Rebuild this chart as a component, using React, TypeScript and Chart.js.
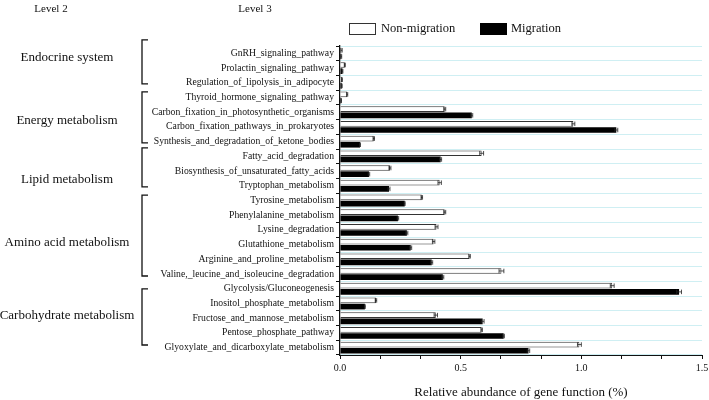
import React, { useEffect, useRef } from 'react';
import { Chart, registerables } from 'chart.js';

Chart.register(...registerables);

const categories = [
  'GnRH_signaling_pathway',
  'Prolactin_signaling_pathway',
  'Regulation_of_lipolysis_in_adipocyte',
  'Thyroid_hormone_signaling_pathway',
  'Carbon_fixation_in_photosynthetic_organisms',
  'Carbon_fixation_pathways_in_prokaryotes',
  'Synthesis_and_degradation_of_ketone_bodies',
  'Fatty_acid_degradation',
  'Biosynthesis_of_unsaturated_fatty_acids',
  'Tryptophan_metabolism',
  'Tyrosine_metabolism',
  'Phenylalanine_metabolism',
  'Lysine_degradation',
  'Glutathione_metabolism',
  'Arginine_and_proline_metabolism',
  'Valine,_leucine_and_isoleucine_degradation',
  'Glycolysis/Gluconeogenesis',
  'Inositol_phosphate_metabolism',
  'Fructose_and_mannose_metabolism',
  'Pentose_phosphate_pathway',
  'Glyoxylate_and_dicarboxylate_metabolism',
];

const nonMigration = [
  0.006, 0.02, 0.008, 0.03, 0.434, 0.967, 0.14, 0.587, 0.207, 0.413, 0.339,
  0.434, 0.4, 0.388, 0.537, 0.669, 1.128, 0.149, 0.397, 0.587, 0.992,
];
const migration = [
  0.005, 0.01, 0.007, 0.005, 0.546, 1.145, 0.083, 0.417, 0.12, 0.203, 0.268,
  0.24, 0.277, 0.293, 0.38, 0.426, 1.405, 0.103, 0.591, 0.678, 0.781,
];
const nonMigrationErr = [
  0.003, 0.002, 0.002, 0.002, 0.004, 0.006, 0.003, 0.008, 0.004, 0.007, 0.003,
  0.004, 0.006, 0.005, 0.003, 0.01, 0.008, 0.003, 0.007, 0.003, 0.008,
];
const migrationErr = [
  0.002, 0.002, 0.002, 0.001, 0.004, 0.006, 0.002, 0.004, 0.003, 0.004, 0.002,
  0.003, 0.004, 0.004, 0.004, 0.004, 0.01, 0.002, 0.006, 0.003, 0.005,
];
const xTickLabels = ['0.0', '0.5', '1.0', '1.5'];
const seriesNames = ['Non-migration', 'Migration'];

const groupNames = [
  'Endocrine system',
  'Energy metabolism',
  'Lipid metabolism',
  'Amino acid metabolism',
  'Carbohydrate metabolism',
];
// label position and bracket extent, in category-index units
const groupLabelAt = [0.31, 4.56, 8.61, 12.89, 17.85];
const groupBracketTop = [-0.91, 2.62, 6.43, 9.63, 16.01];
const groupBracketBottom = [2.08, 6.09, 9.08, 15.13, 19.82];

const FONT = '"Liberation Serif", "Times New Roman", serif';

export default function App() {
  const ref = useRef<HTMLCanvasElement | null>(null);

  useEffect(() => {
    document.body.style.margin = '0';
    const canvas = ref.current;
    if (!canvas) return;

    const decor = {
      id: 'decor',
      afterDatasetsDraw(chart: any) {
        const ctx = chart.ctx;
        const xs = chart.scales.x;
        const errs = [nonMigrationErr, migrationErr];
        const vals = [nonMigration, migration];
        ctx.save();
        ctx.strokeStyle = '#222';
        ctx.lineWidth = 0.8;
        for (let d = 0; d < 2; d++) {
          const meta = chart.getDatasetMeta(d);
          meta.data.forEach((bar: any, i: number) => {
            const v = vals[d][i];
            const e = errs[d][i];
            const x1 = xs.getPixelForValue(v - e);
            const x2 = xs.getPixelForValue(v + e);
            const h = bar.height * 0.4;
            ctx.beginPath();
            ctx.moveTo(x1, bar.y);
            ctx.lineTo(x2, bar.y);
            ctx.moveTo(x1, bar.y - h);
            ctx.lineTo(x1, bar.y + h);
            ctx.moveTo(x2, bar.y - h);
            ctx.lineTo(x2, bar.y + h);
            ctx.stroke();
          });
        }
        ctx.restore();
      },
      afterDraw(chart: any) {
        const ctx = chart.ctx;
        const area = chart.chartArea;
        const n = categories.length;
        const pitch = (area.bottom - area.top) / n;
        const yAt = (i: number) => area.top + (i + 0.5) * pitch;
        ctx.save();
        ctx.fillStyle = '#111';
        ctx.textBaseline = 'middle';
        // headers
        ctx.font = `11px ${FONT}`;
        ctx.textAlign = 'center';
        ctx.fillText('Level 2', 51, 9);
        ctx.fillText('Level 3', 255, 9);
        // group labels and brackets
        ctx.font = `13px ${FONT}`;
        groupNames.forEach((g, k) => {
          ctx.textAlign = 'center';
          ctx.fillText(g, 67, yAt(groupLabelAt[k]));
          const t = yAt(groupBracketTop[k]);
          const b = yAt(groupBracketBottom[k]);
          ctx.strokeStyle = '#111';
          ctx.lineWidth = 1.3;
          ctx.beginPath();
          ctx.moveTo(148, t);
          ctx.lineTo(142, t);
          ctx.lineTo(142, b);
          ctx.lineTo(148, b);
          ctx.stroke();
        });
        // legend
        ctx.lineWidth = 1;
        ctx.strokeStyle = '#333';
        ctx.fillStyle = '#fff';
        ctx.fillRect(349.5, 23.5, 26, 11);
        ctx.strokeRect(349.5, 23.5, 26, 11);
        ctx.fillStyle = '#000';
        ctx.fillRect(480, 23, 27, 12);
        ctx.fillStyle = '#111';
        ctx.textAlign = 'left';
        ctx.font = `12.5px ${FONT}`;
        ctx.fillText(seriesNames[0], 381, 29);
        ctx.fillText(seriesNames[1], 511, 29);
        ctx.restore();
      },
    };

    const chart = new Chart(canvas, {
      type: 'bar',
      data: {
        labels: categories,
        datasets: [
          {
            label: seriesNames[0],
            data: nonMigration,
            backgroundColor: '#ffffff',
            borderColor: '#333333',
            borderWidth: 1,
            categoryPercentage: 0.84,
            barPercentage: 0.92,
          },
          {
            label: seriesNames[1],
            data: migration,
            backgroundColor: '#000000',
            borderColor: '#000000',
            borderWidth: 0,
            categoryPercentage: 0.84,
            barPercentage: 0.92,
          },
        ],
      },
      options: {
        indexAxis: 'y',
        responsive: false,
        animation: false,
        layout: { padding: { top: 46, right: 0, left: 0, bottom: 0 } },
        plugins: {
          legend: { display: false },
          tooltip: { enabled: false },
          title: { display: false },
        },
        scales: {
          x: {
            min: 0,
            max: 1.5,
            afterFit: (s: any) => {
              s.height = 45;
              s.paddingRight = 7;
            },
            ticks: {
              stepSize: 0.5 / 3,
              autoSkip: false,
              maxRotation: 0,
              color: '#111',
              padding: 3,
              font: { family: FONT, size: 10 },
              callback: (v: any) => {
                const k = Math.round(Number(v) * 2);
                if (Math.abs(Number(v) * 2 - k) < 1e-6) return xTickLabels[k];
                return '';
              },
            },
            grid: {
              drawOnChartArea: false,
              drawTicks: true,
              tickLength: 4,
              tickColor: '#111',
              tickWidth: 1,
            },
            border: { color: '#111', width: 1 },
            title: {
              display: true,
              text: 'Relative abundance of gene function (%)',
              color: '#111',
              font: { family: FONT, size: 13 },
              padding: { top: 0, bottom: 0 },
            },
          },
          y: {
            afterFit: (s: any) => {
              s.width = 340;
            },
            ticks: {
              autoSkip: false,
              color: '#111',
              padding: 2,
              font: { family: FONT, size: 9.7 },
            },
            grid: {
              offset: true,
              color: '#cfeff3',
              lineWidth: 1,
              drawTicks: true,
              tickLength: 4,
              tickColor: '#111',
            },
            border: { color: '#111', width: 1.3 },
          },
        },
      },
      plugins: [decor],
    } as any);

    return () => chart.destroy();
  }, []);

  return <canvas ref={ref} width={709} height={400} style={{ display: 'block' }} />;
}
